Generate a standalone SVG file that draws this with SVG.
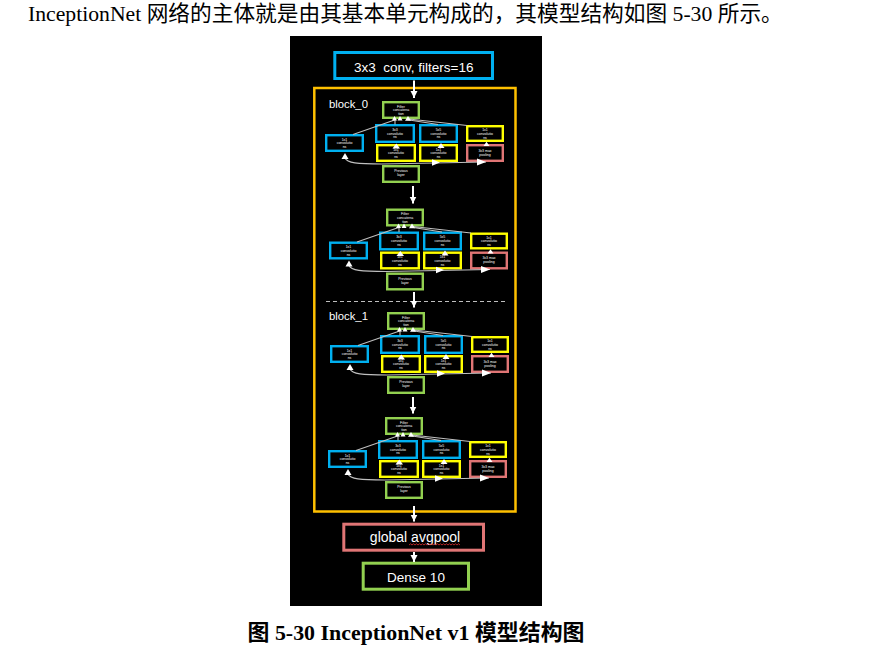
<svg xmlns="http://www.w3.org/2000/svg" width="893" height="656" viewBox="0 0 893 656">
<style>
.bx{fill:#000;stroke-width:2.4}
.B{stroke:#00B0F0}.Y{stroke:#FFFF00}.G{stroke:#92D050}.P{stroke:#E07575}
.t{font-family:"Liberation Sans",Arial,sans-serif;fill:#fff;font-size:3.5px;text-anchor:middle}
.L{font-family:"Liberation Sans",Arial,sans-serif;fill:#fff;text-anchor:middle}
.ln{stroke:#BFBFBF;stroke-width:1.1;fill:none}
.ah{fill:#fff}
.main{stroke:#fff;stroke-width:2;fill:none}
</style>
<defs>
<marker id="arr" markerUnits="userSpaceOnUse" markerWidth="8" markerHeight="8" refX="7" refY="4" orient="auto">
<path d="M0,0.5 L7,4 L0,7.5 Z" fill="#fff"/>
</marker>
</defs>
<rect width="893" height="656" fill="#fff"/>
<text x="28" y="21" font-family="'Liberation Serif','Noto Sans CJK SC',serif" font-size="21.7" fill="#000">InceptionNet 网络的主体就是由其基本单元构成的，其模型结构如图 5-30 所示。</text>
<rect x="290" y="36" width="252" height="570" fill="#000"/>
<g id="conv"><rect x="334.8" y="52.5" width="157.7" height="26" fill="#000" stroke="#00B0F0" stroke-width="3"/><text class="L" x="413.7" y="71.5" font-size="13.5" xml:space="preserve">3x3  conv, filters=16</text></g>
<g id="block"><rect x="314.3" y="88" width="201.2" height="423.5" fill="none" stroke="#FFC000" stroke-width="2.5"/>
<text x="329" y="108" font-family="'Liberation Sans',Arial,sans-serif" font-size="11.3" fill="#fff">block_0</text>
<text x="329" y="320" font-family="'Liberation Sans',Arial,sans-serif" font-size="11.3" fill="#fff">block_1</text>
<line x1="326" y1="301.5" x2="507" y2="301.5" stroke="#BFBFBF" stroke-width="1" stroke-dasharray="4 3"/></g>

<g id="m1" transform="translate(382,101)">
<g id="m1-concat"><rect class="bx G" x="1.2" y="1.2" width="35.6" height="15.6"/><text class="t" x="19" y="6.5">Filter</text><text class="t" x="19" y="10.3">concatena</text><text class="t" x="19" y="14.1">tion</text></g>
<g id="m1-b3"><rect class="bx B" x="-5.8" y="24.2" width="37.6" height="16.6"/><text class="t" x="13" y="29.8">3x3</text><text class="t" x="13" y="33.6">convolutio</text><text class="t" x="13" y="37.4">ns</text></g>
<g id="m1-b5"><rect class="bx B" x="38.2" y="24.2" width="36.6" height="16.6"/><text class="t" x="56.5" y="29.8">5x5</text><text class="t" x="56.5" y="33.6">convolutio</text><text class="t" x="56.5" y="37.4">ns</text></g>
<g id="m1-y1r"><rect class="bx Y" x="85.2" y="25.2" width="35.6" height="14.6"/><text class="t" x="103" y="30">1x1</text><text class="t" x="103" y="33.8">convolutio</text><text class="t" x="103" y="37.6">ns</text></g>
<g id="m1-b1l"><rect class="bx B" x="-55.8" y="34.2" width="36.6" height="15.6"/><text class="t" x="-37.5" y="39.5">1x1</text><text class="t" x="-37.5" y="43.3">convolutio</text><text class="t" x="-37.5" y="47.1">ns</text></g>
<g id="m1-yl"><rect class="bx Y" x="-4.8" y="44.2" width="37.6" height="15.6"/><text class="t" x="14" y="49.5">1x1</text><text class="t" x="14" y="53.3">convolutio</text><text class="t" x="14" y="57.1">ns</text></g>
<g id="m1-ym"><rect class="bx Y" x="38.2" y="44.2" width="36.6" height="15.6"/><text class="t" x="56.5" y="49.5">1x1</text><text class="t" x="56.5" y="53.3">convolutio</text><text class="t" x="56.5" y="57.1">ns</text></g>
<g id="m1-pool"><rect class="bx P" x="85.2" y="44.2" width="35.6" height="15.6"/><text class="t" x="103" y="50.5">3x3 max</text><text class="t" x="103" y="54.5">pooling</text></g>
<g id="m1-prev"><rect class="bx G" x="1.2" y="65.2" width="35.6" height="15.6"/><text class="t" x="19" y="71">Previous</text><text class="t" x="19" y="75">layer</text></g>
</g>

<g id="m2" transform="translate(386,208.5)">
<g id="m2-concat"><rect class="bx G" x="1.2" y="1.2" width="35.6" height="15.6"/><text class="t" x="19" y="6.5">Filter</text><text class="t" x="19" y="10.3">concatena</text><text class="t" x="19" y="14.1">tion</text></g>
<g id="m2-b3"><rect class="bx B" x="-5.8" y="24.2" width="37.6" height="16.6"/><text class="t" x="13" y="29.8">3x3</text><text class="t" x="13" y="33.6">convolutio</text><text class="t" x="13" y="37.4">ns</text></g>
<g id="m2-b5"><rect class="bx B" x="38.2" y="24.2" width="36.6" height="16.6"/><text class="t" x="56.5" y="29.8">5x5</text><text class="t" x="56.5" y="33.6">convolutio</text><text class="t" x="56.5" y="37.4">ns</text></g>
<g id="m2-y1r"><rect class="bx Y" x="85.2" y="25.2" width="35.6" height="14.6"/><text class="t" x="103" y="30">1x1</text><text class="t" x="103" y="33.8">convolutio</text><text class="t" x="103" y="37.6">ns</text></g>
<g id="m2-b1l"><rect class="bx B" x="-55.8" y="34.2" width="36.6" height="15.6"/><text class="t" x="-37.5" y="39.5">1x1</text><text class="t" x="-37.5" y="43.3">convolutio</text><text class="t" x="-37.5" y="47.1">ns</text></g>
<g id="m2-yl"><rect class="bx Y" x="-4.8" y="44.2" width="37.6" height="15.6"/><text class="t" x="14" y="49.5">1x1</text><text class="t" x="14" y="53.3">convolutio</text><text class="t" x="14" y="57.1">ns</text></g>
<g id="m2-ym"><rect class="bx Y" x="38.2" y="44.2" width="36.6" height="15.6"/><text class="t" x="56.5" y="49.5">1x1</text><text class="t" x="56.5" y="53.3">convolutio</text><text class="t" x="56.5" y="57.1">ns</text></g>
<g id="m2-pool"><rect class="bx P" x="85.2" y="44.2" width="35.6" height="15.6"/><text class="t" x="103" y="50.5">3x3 max</text><text class="t" x="103" y="54.5">pooling</text></g>
<g id="m2-prev"><rect class="bx G" x="1.2" y="65.2" width="35.6" height="15.6"/><text class="t" x="19" y="71">Previous</text><text class="t" x="19" y="75">layer</text></g>
</g>

<g id="m3" transform="translate(387,312)">
<g id="m3-concat"><rect class="bx G" x="1.2" y="1.2" width="35.6" height="15.6"/><text class="t" x="19" y="6.5">Filter</text><text class="t" x="19" y="10.3">concatena</text><text class="t" x="19" y="14.1">tion</text></g>
<g id="m3-b3"><rect class="bx B" x="-5.8" y="24.2" width="37.6" height="16.6"/><text class="t" x="13" y="29.8">3x3</text><text class="t" x="13" y="33.6">convolutio</text><text class="t" x="13" y="37.4">ns</text></g>
<g id="m3-b5"><rect class="bx B" x="38.2" y="24.2" width="36.6" height="16.6"/><text class="t" x="56.5" y="29.8">5x5</text><text class="t" x="56.5" y="33.6">convolutio</text><text class="t" x="56.5" y="37.4">ns</text></g>
<g id="m3-y1r"><rect class="bx Y" x="85.2" y="25.2" width="35.6" height="14.6"/><text class="t" x="103" y="30">1x1</text><text class="t" x="103" y="33.8">convolutio</text><text class="t" x="103" y="37.6">ns</text></g>
<g id="m3-b1l"><rect class="bx B" x="-55.8" y="34.2" width="36.6" height="15.6"/><text class="t" x="-37.5" y="39.5">1x1</text><text class="t" x="-37.5" y="43.3">convolutio</text><text class="t" x="-37.5" y="47.1">ns</text></g>
<g id="m3-yl"><rect class="bx Y" x="-4.8" y="44.2" width="37.6" height="15.6"/><text class="t" x="14" y="49.5">1x1</text><text class="t" x="14" y="53.3">convolutio</text><text class="t" x="14" y="57.1">ns</text></g>
<g id="m3-ym"><rect class="bx Y" x="38.2" y="44.2" width="36.6" height="15.6"/><text class="t" x="56.5" y="49.5">1x1</text><text class="t" x="56.5" y="53.3">convolutio</text><text class="t" x="56.5" y="57.1">ns</text></g>
<g id="m3-pool"><rect class="bx P" x="85.2" y="44.2" width="35.6" height="15.6"/><text class="t" x="103" y="50.5">3x3 max</text><text class="t" x="103" y="54.5">pooling</text></g>
<g id="m3-prev"><rect class="bx G" x="1.2" y="65.2" width="35.6" height="15.6"/><text class="t" x="19" y="71">Previous</text><text class="t" x="19" y="75">layer</text></g>
</g>

<g id="m4" transform="translate(385,417)">
<g id="m4-concat"><rect class="bx G" x="1.2" y="1.2" width="35.6" height="15.6"/><text class="t" x="19" y="6.5">Filter</text><text class="t" x="19" y="10.3">concatena</text><text class="t" x="19" y="14.1">tion</text></g>
<g id="m4-b3"><rect class="bx B" x="-5.8" y="24.2" width="37.6" height="16.6"/><text class="t" x="13" y="29.8">3x3</text><text class="t" x="13" y="33.6">convolutio</text><text class="t" x="13" y="37.4">ns</text></g>
<g id="m4-b5"><rect class="bx B" x="38.2" y="24.2" width="36.6" height="16.6"/><text class="t" x="56.5" y="29.8">5x5</text><text class="t" x="56.5" y="33.6">convolutio</text><text class="t" x="56.5" y="37.4">ns</text></g>
<g id="m4-y1r"><rect class="bx Y" x="85.2" y="25.2" width="35.6" height="14.6"/><text class="t" x="103" y="30">1x1</text><text class="t" x="103" y="33.8">convolutio</text><text class="t" x="103" y="37.6">ns</text></g>
<g id="m4-b1l"><rect class="bx B" x="-55.8" y="34.2" width="36.6" height="15.6"/><text class="t" x="-37.5" y="39.5">1x1</text><text class="t" x="-37.5" y="43.3">convolutio</text><text class="t" x="-37.5" y="47.1">ns</text></g>
<g id="m4-yl"><rect class="bx Y" x="-4.8" y="44.2" width="37.6" height="15.6"/><text class="t" x="14" y="49.5">1x1</text><text class="t" x="14" y="53.3">convolutio</text><text class="t" x="14" y="57.1">ns</text></g>
<g id="m4-ym"><rect class="bx Y" x="38.2" y="44.2" width="36.6" height="15.6"/><text class="t" x="56.5" y="49.5">1x1</text><text class="t" x="56.5" y="53.3">convolutio</text><text class="t" x="56.5" y="57.1">ns</text></g>
<g id="m4-pool"><rect class="bx P" x="85.2" y="44.2" width="35.6" height="15.6"/><text class="t" x="103" y="50.5">3x3 max</text><text class="t" x="103" y="54.5">pooling</text></g>
<g id="m4-prev"><rect class="bx G" x="1.2" y="65.2" width="35.6" height="15.6"/><text class="t" x="19" y="71">Previous</text><text class="t" x="19" y="75">layer</text></g>
</g>

<g id="avgpool"><rect x="343.8" y="524.2" width="139.7" height="26" fill="#000" stroke="#E07575" stroke-width="3"/><text class="L" x="415" y="541.7" font-size="14">global avgpool</text>
<path d="M409,545 l1.5,-1.2 l1.5,1.2 l1.5,-1.2 l1.5,1.2 l1.5,-1.2 l1.5,1.2 l1.5,-1.2 l1.5,1.2 l1.5,-1.2 l1.5,1.2 l1.5,-1.2 l1.5,1.2 l1.5,-1.2 l1.5,1.2 l1.5,-1.2 l1.5,1.2 l1.5,-1.2 l1.5,1.2 l1.5,-1.2 l1.5,1.2 l1.5,-1.2 l1.5,1.2 l1.5,-1.2 l1.5,1.2 l1.5,-1.2 l1.5,1.2 l1.5,-1.2 l1.5,1.2 l1.5,-1.2 l1.5,1.2 l1.5,-1.2 l1.5,1.2 l1.5,-1.2 l1.5,1.2" fill="none" stroke="#E03030" stroke-width="0.8"/></g>
<g id="dense"><rect x="363.2" y="563.2" width="105.3" height="26" fill="#000" stroke="#92D050" stroke-width="3"/><text class="L" x="416" y="582" font-size="13.5">Dense 10</text></g>

<g id="connectors">
<line class="main" x1="414" y1="80.5" x2="414" y2="98" marker-end="url(#arr)"/>
<line class="main" x1="413" y1="186" x2="413" y2="203.5" marker-end="url(#arr)"/>
<line class="main" x1="414" y1="292" x2="414" y2="307.5" marker-end="url(#arr)"/>
<line class="main" x1="413" y1="397" x2="413" y2="413.5" marker-end="url(#arr)"/>
<line class="main" x1="414" y1="506" x2="414" y2="521.5" marker-end="url(#arr)"/>
<line class="main" x1="414" y1="552" x2="414" y2="562" marker-end="url(#arr)"/>
<g id="c1" transform="translate(382,101)">
<path class="ln" d="M-29,33.5 L14,18.5 M85,24.5 L27,18 M56,23.5 L24,18.5 M13,23.5 L13,19 M-37,57 C-35,62 -25,63 0,63 L104,61"/>
<polygon class="ah" points="10,19.5 12.5,15 15,19.5"/><polygon class="ah" points="15.5,19.5 18,15 20.5,19.5"/><polygon class="ah" points="23,19.8 26,15 29,19.8"/>
<polygon class="ah" points="10.5,47.5 14.3,42.5 18,47.5"/><polygon class="ah" points="55.5,47 59,42 62.5,47"/><polygon class="ah" points="101.5,45 104.5,40.8 107.5,45"/>
<polygon class="ah" points="-40.5,58 -37,52 -33.5,58"/><polygon class="ah" points="50,58.3 58,61.5 50,64.7"/><polygon class="ah" points="95,57.5 104,61 95,64.5"/>
</g>
<g id="c2" transform="translate(386,208.5)">
<path class="ln" d="M-29,33.5 L14,18.5 M85,24.5 L27,18 M56,23.5 L24,18.5 M13,23.5 L13,19 M-37,57 C-35,62 -25,63 0,63 L104,61"/>
<polygon class="ah" points="10,19.5 12.5,15 15,19.5"/><polygon class="ah" points="15.5,19.5 18,15 20.5,19.5"/><polygon class="ah" points="23,19.8 26,15 29,19.8"/>
<polygon class="ah" points="10.5,47.5 14.3,42.5 18,47.5"/><polygon class="ah" points="55.5,47 59,42 62.5,47"/><polygon class="ah" points="101.5,45 104.5,40.8 107.5,45"/>
<polygon class="ah" points="-40.5,58 -37,52 -33.5,58"/><polygon class="ah" points="50,58.3 58,61.5 50,64.7"/><polygon class="ah" points="95,57.5 104,61 95,64.5"/>
</g>
<g id="c3" transform="translate(387,312)">
<path class="ln" d="M-29,33.5 L14,18.5 M85,24.5 L27,18 M56,23.5 L24,18.5 M13,23.5 L13,19 M-37,57 C-35,62 -25,63 0,63 L104,61"/>
<polygon class="ah" points="10,19.5 12.5,15 15,19.5"/><polygon class="ah" points="15.5,19.5 18,15 20.5,19.5"/><polygon class="ah" points="23,19.8 26,15 29,19.8"/>
<polygon class="ah" points="10.5,47.5 14.3,42.5 18,47.5"/><polygon class="ah" points="55.5,47 59,42 62.5,47"/><polygon class="ah" points="101.5,45 104.5,40.8 107.5,45"/>
<polygon class="ah" points="-40.5,58 -37,52 -33.5,58"/><polygon class="ah" points="50,58.3 58,61.5 50,64.7"/><polygon class="ah" points="95,57.5 104,61 95,64.5"/>
</g>
<g id="c4" transform="translate(385,417)">
<path class="ln" d="M-29,33.5 L14,18.5 M85,24.5 L27,18 M56,23.5 L24,18.5 M13,23.5 L13,19 M-37,57 C-35,62 -25,63 0,63 L104,61"/>
<polygon class="ah" points="10,19.5 12.5,15 15,19.5"/><polygon class="ah" points="15.5,19.5 18,15 20.5,19.5"/><polygon class="ah" points="23,19.8 26,15 29,19.8"/>
<polygon class="ah" points="10.5,47.5 14.3,42.5 18,47.5"/><polygon class="ah" points="55.5,47 59,42 62.5,47"/><polygon class="ah" points="101.5,45 104.5,40.8 107.5,45"/>
<polygon class="ah" points="-40.5,58 -37,52 -33.5,58"/><polygon class="ah" points="50,58.3 58,61.5 50,64.7"/><polygon class="ah" points="95,57.5 104,61 95,64.5"/>
</g>
</g>
<text x="416" y="640" text-anchor="middle" font-family="'Liberation Serif','Noto Sans CJK SC',serif" font-size="21.9" font-weight="bold" fill="#000">图 5-30 InceptionNet v1 模型结构图</text>
</svg>
